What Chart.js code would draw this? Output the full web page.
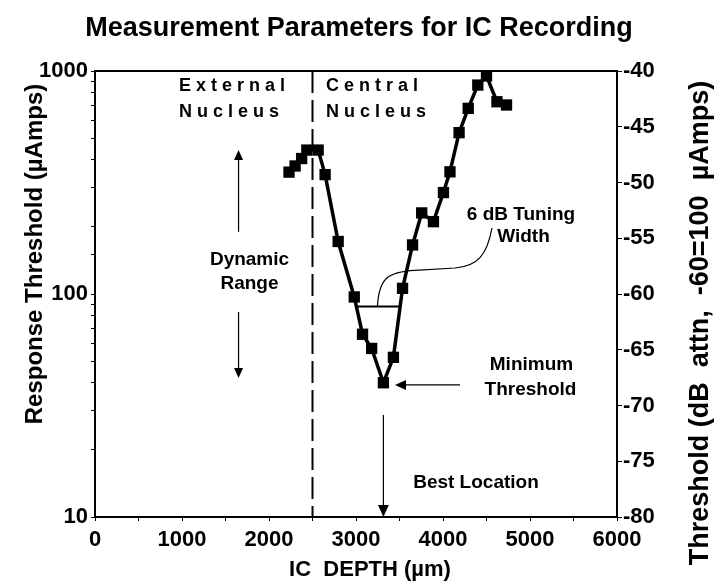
<!DOCTYPE html>
<html>
<head>
<meta charset="utf-8">
<script src="https://cdn.jsdelivr.net/npm/chart.js@4/dist/chart.umd.min.js"></script>
<style>
  html, body { margin: 0; padding: 0; background: #fff; }
  canvas { display: block; }
</style>
</head>
<body>
<canvas id="chart" width="720" height="582"></canvas>
<script>
// IC depth (um) and response threshold (uAmps) for each recording site
const depths = [2230, 2300, 2375, 2435, 2565, 2645, 2795, 2980, 3075, 3180, 3315, 3430, 3535, 3650, 3755, 3890, 4005, 4080, 4185, 4290, 4400, 4500, 4620, 4730];
const thresholds = [352, 375, 405, 442, 442, 343, 172, 97, 66, 57, 40, 52, 106, 166, 231, 211, 285, 353, 529, 680, 865, 950, 728, 704];

// 6 dB tuning width bar
const tuningDepths = [2990, 3495];
const tuningLevel = [88, 88];

// axis ranges / ticks
const depthTicks = [0, 1000, 2000, 3000, 4000, 5000, 6000];
const currentRange = [10, 1000];
const attnRange = [-80, -40];

// boundary between external and central nucleus
const nucleusBorder = 2500;

const FONT = '"Liberation Sans", Arial, Helvetica, sans-serif';
Chart.defaults.font.family = FONT;
Chart.defaults.color = '#000';

function arrow(ctx, x1, y1, x2, y2, head) {
    const ang = Math.atan2(y2 - y1, x2 - x1);
    ctx.beginPath();
    ctx.moveTo(x1, y1);
    ctx.lineTo(x2 - Math.cos(ang) * head * 0.8, y2 - Math.sin(ang) * head * 0.8);
    ctx.stroke();
    ctx.beginPath();
    ctx.moveTo(x2, y2);
    ctx.lineTo(x2 - head * Math.cos(ang) + head * 0.45 * Math.sin(ang), y2 - head * Math.sin(ang) - head * 0.45 * Math.cos(ang));
    ctx.lineTo(x2 - head * Math.cos(ang) - head * 0.45 * Math.sin(ang), y2 - head * Math.sin(ang) + head * 0.45 * Math.cos(ang));
    ctx.closePath();
    ctx.fill();
}

const notes = {
    id: 'notes',
    afterDatasetsDraw(chart) {
        const { ctx, chartArea: a, scales: { x, y } } = chart;
        const px = v => x.getPixelForValue(v);
        const py = v => y.getPixelForValue(v);
        ctx.save();
        ctx.strokeStyle = '#000';
        ctx.fillStyle = '#000';

        // frame top
        ctx.lineWidth = 2;
        ctx.beginPath();
        ctx.moveTo(a.left, a.top);
        ctx.lineTo(a.right, a.top);
        ctx.stroke();

        // nucleus border
        ctx.setLineDash([22, 7]);
        ctx.beginPath();
        ctx.moveTo(px(nucleusBorder), a.top);
        ctx.lineTo(px(nucleusBorder), a.bottom);
        ctx.stroke();
        ctx.setLineDash([]);

        // region names
        ctx.textAlign = 'left';
        ctx.textBaseline = 'middle';
        ctx.font = 'bold 18px ' + FONT;
        ctx.letterSpacing = '5px';
        ctx.fillText('External', px(966), py(856));
        ctx.fillText('Nucleus', px(966), py(655));
        ctx.fillText('Central', px(2655), py(856));
        ctx.fillText('Nucleus', px(2655), py(655));
        ctx.letterSpacing = '0px';

        // dynamic range
        ctx.lineWidth = 1.2;
        arrow(ctx, px(1650), py(190), px(1650), py(442), 10);
        arrow(ctx, px(1650), py(83), px(1650), py(42), 10);
        ctx.textAlign = 'center';
        ctx.font = 'bold 19px ' + FONT;
        ctx.fillText('Dynamic', px(1776), py(142));
        ctx.fillText('Range', px(1776), py(111));

        // 6 dB tuning width callout
        ctx.lineWidth = 1.2;
        ctx.beginPath();
        ctx.moveTo(px(3247), py(88.4));
        ctx.bezierCurveTo(px(3264), py(118), px(3368), py(125.6), px(3678), py(127.5));
        ctx.lineTo(px(4138), py(130.8));
        ctx.bezierCurveTo(px(4402), py(133.5), px(4506), py(149.6), px(4563), py(197.7));
        ctx.stroke();
        ctx.fillText('6 dB Tuning', px(4897), py(226));
        ctx.fillText('Width', px(4925), py(180));

        // minimum threshold
        arrow(ctx, px(4195), py(39.1), px(3448), py(39.1), 11);
        ctx.fillText('Minimum', px(5017), py(48.1));
        ctx.fillText('Threshold', px(5006), py(37.1));

        // best location
        arrow(ctx, px(3315), py(28.7), px(3315), py(10), 12);
        ctx.fillText('Best Location', px(4379), py(14.2));

        // titles
        ctx.font = 'bold 27px ' + FONT;
        ctx.fillText('Measurement Parameters for IC Recording', 359, 29);
        ctx.font = 'bold 24px ' + FONT;
        ctx.save();
        ctx.translate(35, 254);
        ctx.rotate(-Math.PI / 2);
        ctx.fillText('Response Threshold (\u00B5Amps)', 0, 0);
        ctx.restore();
        ctx.save();
        ctx.font = 'bold 27px ' + FONT;
        ctx.translate(701, 323);
        ctx.rotate(-Math.PI / 2);
        ctx.fillText('Threshold (dB  attn,  -60=100  \u00B5Amps)', 0, 0);
        ctx.restore();
        ctx.font = 'bold 22px ' + FONT;
        ctx.fillText('IC  DEPTH (\u00B5m)', 370, 570);
        ctx.restore();
    }
};

new Chart(document.getElementById('chart'), {
    type: 'line',
    data: {
        datasets: [{
            data: depths.map((d, i) => ({ x: d, y: thresholds[i] })),
            borderColor: '#000',
            backgroundColor: '#000',
            borderWidth: 3.5,
            pointStyle: 'rect',
            pointRadius: 8,
            pointBorderWidth: 0,
            tension: 0
        }, {
            data: tuningDepths.map((d, i) => ({ x: d, y: tuningLevel[i] })),
            borderColor: '#000',
            borderWidth: 2,
            pointRadius: 0
        }]
    },
    options: {
        responsive: false,
        animation: false,
        devicePixelRatio: 1,
        layout: { padding: { top: 71, left: 0, right: 0, bottom: 0 } },
        plugins: { legend: { display: false }, tooltip: { enabled: false } },
        scales: {
            x: {
                type: 'linear',
                min: depthTicks[0],
                max: depthTicks[depthTicks.length - 1],
                afterFit(s) { s.height = 65; },
                border: { color: '#000', width: 2 },
                grid: { display: true, drawOnChartArea: false, color: '#000', tickLength: 4 },
                ticks: {
                    stepSize: 500,
                    autoSkip: false,
                    maxRotation: 0,
                    padding: 6,
                    font: { size: 22, weight: 'bold' },
                    callback: v => depthTicks.includes(v) ? String(v) : ''
                }
            },
            y: {
                type: 'logarithmic',
                position: 'left',
                min: currentRange[0],
                max: currentRange[1],
                afterFit(s) { s.width = 95; },
                border: { color: '#000', width: 2 },
                grid: { display: true, drawOnChartArea: false, color: '#000', tickLength: 4 },
                ticks: {
                    autoSkip: false,
                    padding: 3,
                    font: { size: 22, weight: 'bold' },
                    callback: v => Number.isInteger(Math.log10(v)) ? String(v) : ''
                }
            },
            y2: {
                type: 'linear',
                position: 'right',
                min: attnRange[0],
                max: attnRange[1],
                afterFit(s) { s.width = 103; },
                border: { color: '#000', width: 2 },
                grid: { display: true, drawOnChartArea: false, color: '#000', tickLength: 5 },
                ticks: {
                    stepSize: 5,
                    padding: 1,
                    font: { size: 22, weight: 'bold' }
                }
            }
        }
    },
    plugins: [notes]
});
</script>
</body>
</html>
